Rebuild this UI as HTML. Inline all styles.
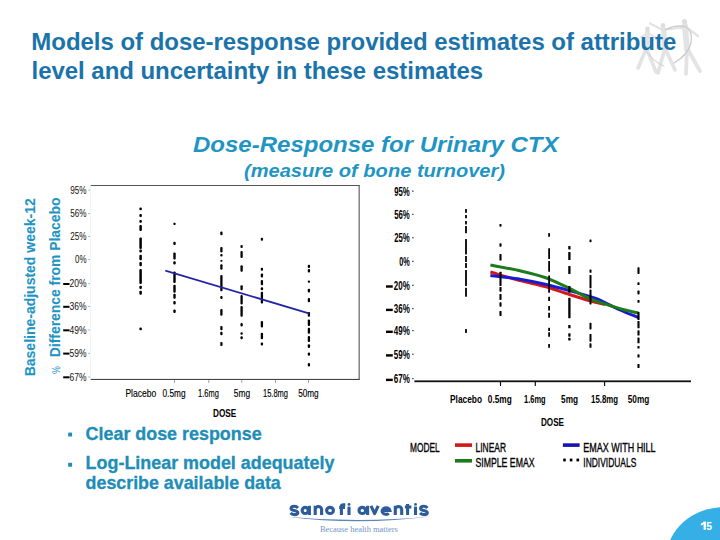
<!DOCTYPE html>
<html><head><meta charset="utf-8">
<style>
html,body{margin:0;padding:0;background:#fff;width:720px;height:540px;overflow:hidden}
svg{display:block}
text{font-family:"Liberation Sans",sans-serif}
.t{font-size:24px;font-weight:bold;fill:#1a73aa}
.s1{font-size:22.3px;font-weight:bold;font-style:italic;fill:#1f95c4}
.s2{font-size:18.7px;font-weight:bold;font-style:italic;fill:#1f95c4}
.ax{font-size:14.4px;font-weight:bold;fill:#1f95c4;stroke:#1f95c4;stroke-width:0.1}
.bl{font-size:18.2px;font-weight:bold;fill:#208db6;stroke:#208db6;stroke-width:0.3}
.lt{font-size:10.3px;fill:#111}
.lx{font-size:10.2px;fill:#000;stroke:#000;stroke-width:0.15}
.rt{font-size:12.5px;fill:#000;font-weight:bold}
.rx{font-size:11.8px;fill:#000;font-weight:bold}
.dose{font-size:10.4px;font-weight:bold;fill:#000}
.leg{font-size:13.2px;fill:#000;stroke:#000;stroke-width:0.35}
</style></head><body>
<svg width="720" height="540" viewBox="0 0 720 540">
<defs><filter id="bl" x="-20%" y="-20%" width="140%" height="140%"><feGaussianBlur stdDeviation="0.75"/></filter></defs>
<g filter="url(#bl)">
<g fill="none" stroke="#e3e3e3" stroke-linecap="round" stroke-linejoin="round">
  <path d="M647.5 32 L 646.5 49" stroke-width="5"/>
  <path d="M646.5 48 L 638 68 M646.5 48 L 656 72" stroke-width="3.6"/>
  <path d="M663.5 29 L 665 49" stroke-width="5.2"/>
  <path d="M665 48 L 658 73 M665 48 L 675 70" stroke-width="3.6"/>
  <path d="M650 23.5 L 663 30 L 678 28" stroke-width="2.2"/>
  <path d="M685 26 L 687 49" stroke-width="6"/>
  <path d="M687 48 L 686 74 M687 48 L 700 71" stroke-width="3.8"/>
  <path d="M680 28 L 686 27 L 698 36" stroke-width="2.4"/>
  <path d="M641 37 L 648 33 L 655 37" stroke-width="2"/>
</g>
<g fill="#dedede"><circle cx="647.5" cy="28.8" r="2.3"/><circle cx="663" cy="25.4" r="2.3"/><circle cx="684.5" cy="21.6" r="2.7"/></g>
<g fill="none" stroke-linecap="round" stroke-linejoin="round">
  <path d="M666 29.5 Q 677 24, 686 27 Q 693 31, 691 43 Q 688 55, 674 63" stroke="#cdcdcd" stroke-width="1.4"/>
  <path d="M645 49 Q 652 61, 664 66" stroke="#d6d6d6" stroke-width="1.2"/>
</g>
</g>
<text x="31.3" y="49.7" class="t" textLength="645" lengthAdjust="spacing">Models of dose-response provided estimates of attribute</text>
<text x="31.6" y="78.7" class="t" textLength="451.5" lengthAdjust="spacing">level and uncertainty in these estimates</text>
<text x="193" y="152.2" class="s1" textLength="365.5" lengthAdjust="spacingAndGlyphs">Dose-Response for Urinary CTX</text>
<text x="244" y="177.2" class="s2" textLength="261" lengthAdjust="spacingAndGlyphs">(measure of bone turnover)</text>
<text transform="translate(35.2,376.3) rotate(-90)" class="ax" textLength="178" lengthAdjust="spacingAndGlyphs">Baseline-adjusted week-12</text>
<text transform="translate(60.2,357.2) rotate(-90)" class="ax" textLength="159.6" lengthAdjust="spacingAndGlyphs">Difference from Placebo</text>
<text transform="translate(60.2,373.9) rotate(-90)" style="font-size:11px;fill:#1f95c4" textLength="7.8" lengthAdjust="spacingAndGlyphs">%</text>
<rect x="90" y="185" width="269.5" height="1" fill="#555"/>
<rect x="358.6" y="185" width="1.1" height="195" fill="#555"/>
<rect x="90" y="378.9" width="269.5" height="1.1" fill="#444"/>
<rect x="90" y="185" width="0.8" height="195" fill="#f0f0f0"/>
<text x="86.6" y="193.7" text-anchor="end" class="lt" textLength="16.3" lengthAdjust="spacingAndGlyphs">95%</text><rect x="88.3" y="189.5" width="1.7" height="1" fill="#aaa"/><text x="86.6" y="217.2" text-anchor="end" class="lt" textLength="16.3" lengthAdjust="spacingAndGlyphs">56%</text><rect x="88.3" y="213.0" width="1.7" height="1" fill="#aaa"/><text x="86.6" y="240.2" text-anchor="end" class="lt" textLength="16.3" lengthAdjust="spacingAndGlyphs">25%</text><rect x="88.3" y="236.0" width="1.7" height="1" fill="#aaa"/><text x="86.6" y="263.3" text-anchor="end" class="lt" textLength="11.5" lengthAdjust="spacingAndGlyphs">0%</text><rect x="88.3" y="259.1" width="1.7" height="1" fill="#aaa"/><rect x="63.2" y="283.00" width="6.30" height="2" fill="#000"/><text x="86.6" y="287.4" text-anchor="end" class="lt" textLength="17" lengthAdjust="spacingAndGlyphs">20%</text><rect x="88.3" y="283.2" width="1.7" height="1" fill="#aaa"/><rect x="63.2" y="305.80" width="6.30" height="2" fill="#000"/><text x="86.6" y="310.2" text-anchor="end" class="lt" textLength="17" lengthAdjust="spacingAndGlyphs">36%</text><rect x="88.3" y="306.0" width="1.7" height="1" fill="#aaa"/><rect x="63.2" y="329.30" width="6.30" height="2" fill="#000"/><text x="86.6" y="333.7" text-anchor="end" class="lt" textLength="17" lengthAdjust="spacingAndGlyphs">49%</text><rect x="88.3" y="329.5" width="1.7" height="1" fill="#aaa"/><rect x="63.2" y="352.60" width="6.30" height="2" fill="#000"/><text x="86.6" y="357.0" text-anchor="end" class="lt" textLength="17" lengthAdjust="spacingAndGlyphs">59%</text><rect x="88.3" y="352.8" width="1.7" height="1" fill="#aaa"/><rect x="63.2" y="376.30" width="6.30" height="2" fill="#000"/><text x="86.6" y="380.7" text-anchor="end" class="lt" textLength="17" lengthAdjust="spacingAndGlyphs">67%</text><rect x="88.3" y="376.5" width="1.7" height="1" fill="#aaa"/>
<g fill="#999"><rect x="174.1" y="380" width="0.9" height="3"/><rect x="208.35" y="380" width="0.9" height="3"/><rect x="241.35" y="380" width="0.9" height="3"/><rect x="275.1" y="380" width="0.9" height="3"/><rect x="308.1" y="380" width="0.9" height="3"/></g>
<g fill="#000"><rect x="139.35" y="207.4" width="2.5" height="2.8" rx="1.0"/><rect x="139.35" y="213.9" width="2.5" height="3.2" rx="1.0"/><rect x="139.35" y="219.9" width="2.5" height="2.8" rx="1.0"/><rect x="139.35" y="225.0" width="2.5" height="6.0" rx="1.0"/><rect x="139.35" y="237.5" width="2.5" height="11.5" rx="1.0"/><rect x="139.35" y="249.6" width="2.5" height="2.8" rx="1.0"/><rect x="139.35" y="254.7" width="2.5" height="5.6" rx="1.0"/><rect x="139.35" y="262.1" width="2.5" height="4.2" rx="1.0"/><rect x="139.35" y="269.0" width="2.5" height="14.9" rx="1.0"/><rect x="139.35" y="285.7" width="2.5" height="3.3" rx="1.0"/><rect x="139.35" y="290.8" width="2.5" height="4.0" rx="1.0"/><rect x="139.35" y="327.5" width="2.5" height="2.8" rx="1.0"/><rect x="173.30" y="222.7" width="2.4" height="2.3" rx="1.0"/><rect x="173.30" y="241.7" width="2.4" height="3.2" rx="1.0"/><rect x="173.30" y="252.4" width="2.4" height="7.0" rx="1.0"/><rect x="173.30" y="261.2" width="2.4" height="3.2" rx="1.0"/><rect x="173.30" y="271.4" width="2.4" height="11.6" rx="1.0"/><rect x="173.30" y="284.8" width="2.4" height="8.0" rx="1.0"/><rect x="173.30" y="293.7" width="2.4" height="5.1" rx="1.0"/><rect x="173.30" y="301.1" width="2.4" height="3.3" rx="1.0"/><rect x="173.30" y="309.4" width="2.4" height="3.7" rx="1.0"/><rect x="220.25" y="231.6" width="2.3" height="3.6" rx="1.0"/><rect x="220.25" y="246.9" width="2.3" height="5.6" rx="1.0"/><rect x="220.25" y="254.0" width="2.3" height="2.6" rx="1.0"/><rect x="220.25" y="260.1" width="2.3" height="1.6" rx="1.0"/><rect x="220.25" y="264.2" width="2.3" height="5.6" rx="1.0"/><rect x="220.25" y="274.9" width="2.3" height="16.4" rx="1.0"/><rect x="220.25" y="295.9" width="2.3" height="3.0" rx="1.0"/><rect x="220.25" y="309.1" width="2.3" height="6.6" rx="1.0"/><rect x="220.25" y="326.1" width="2.3" height="4.1" rx="1.0"/><rect x="220.25" y="331.7" width="2.3" height="3.6" rx="1.0"/><rect x="220.25" y="341.9" width="2.3" height="4.1" rx="1.0"/><rect x="240.45" y="244.9" width="2.3" height="3.0" rx="1.0"/><rect x="240.45" y="251.0" width="2.3" height="7.1" rx="1.0"/><rect x="240.45" y="265.2" width="2.3" height="6.6" rx="1.0"/><rect x="240.45" y="285.2" width="2.3" height="5.1" rx="1.0"/><rect x="240.45" y="294.9" width="2.3" height="9.6" rx="1.0"/><rect x="240.45" y="306.0" width="2.3" height="10.8" rx="1.0"/><rect x="240.45" y="323.0" width="2.3" height="3.6" rx="1.0"/><rect x="240.45" y="332.2" width="2.3" height="2.6" rx="1.0"/><rect x="240.45" y="336.3" width="2.3" height="3.0" rx="1.0"/><rect x="260.75" y="237.7" width="2.3" height="3.1" rx="1.0"/><rect x="260.75" y="267.8" width="2.3" height="3.0" rx="1.0"/><rect x="260.75" y="273.4" width="2.3" height="4.0" rx="1.0"/><rect x="260.75" y="280.0" width="2.3" height="5.2" rx="1.0"/><rect x="260.75" y="287.2" width="2.3" height="3.1" rx="1.0"/><rect x="260.75" y="291.8" width="2.3" height="11.7" rx="1.0"/><rect x="260.75" y="321.0" width="2.3" height="6.6" rx="1.0"/><rect x="260.75" y="332.7" width="2.3" height="6.6" rx="1.0"/><rect x="260.75" y="342.4" width="2.3" height="3.1" rx="1.0"/><rect x="307.75" y="264.7" width="2.3" height="3.3" rx="1.0"/><rect x="307.75" y="268.9" width="2.3" height="3.7" rx="1.0"/><rect x="307.75" y="280.5" width="2.3" height="2.3" rx="1.0"/><rect x="307.75" y="288.8" width="2.3" height="3.7" rx="1.0"/><rect x="307.75" y="298.0" width="2.3" height="4.2" rx="1.0"/><rect x="307.75" y="312.0" width="2.3" height="4.7" rx="1.0"/><rect x="307.75" y="319.4" width="2.3" height="6.5" rx="1.0"/><rect x="307.75" y="327.8" width="2.3" height="6.0" rx="1.0"/><rect x="307.75" y="336.1" width="2.3" height="5.8" rx="1.0"/><rect x="307.75" y="344.2" width="2.3" height="3.7" rx="1.0"/><rect x="307.75" y="352.5" width="2.3" height="3.2" rx="1.0"/><rect x="307.75" y="363.1" width="2.3" height="3.3" rx="1.0"/></g>
<line x1="165.3" y1="270.7" x2="308.8" y2="313.3" stroke="#2424a4" stroke-width="1.8"/>
<text x="140.8" y="396.6" text-anchor="middle" class="lx" textLength="30.8" lengthAdjust="spacingAndGlyphs">Placebo</text><text x="174" y="396.6" text-anchor="middle" class="lx" textLength="23" lengthAdjust="spacingAndGlyphs">0.5mg</text><text x="208.4" y="396.6" text-anchor="middle" class="lx" textLength="20.8" lengthAdjust="spacingAndGlyphs">1.6mg</text><text x="241.9" y="396.6" text-anchor="middle" class="lx" textLength="16.3" lengthAdjust="spacingAndGlyphs">5mg</text><text x="275.5" y="396.6" text-anchor="middle" class="lx" textLength="25" lengthAdjust="spacingAndGlyphs">15.8mg</text><text x="308.4" y="396.6" text-anchor="middle" class="lx" textLength="20.5" lengthAdjust="spacingAndGlyphs">50mg</text>
<text x="224.6" y="417" text-anchor="middle" class="dose" textLength="23.3" lengthAdjust="spacingAndGlyphs">DOSE</text>
<text x="409.8" y="195.7" text-anchor="end" class="rt" textLength="15.6" lengthAdjust="spacingAndGlyphs">95%</text><rect x="412" y="190.6" width="1.7" height="1" fill="#333"/><text x="409.8" y="218.9" text-anchor="end" class="rt" textLength="15.6" lengthAdjust="spacingAndGlyphs">56%</text><rect x="412" y="213.8" width="1.7" height="1" fill="#333"/><text x="409.8" y="242.4" text-anchor="end" class="rt" textLength="15.6" lengthAdjust="spacingAndGlyphs">25%</text><rect x="412" y="237.3" width="1.7" height="1" fill="#333"/><text x="409.8" y="265.9" text-anchor="end" class="rt" textLength="10.5" lengthAdjust="spacingAndGlyphs">0%</text><rect x="412" y="260.8" width="1.7" height="1" fill="#333"/><rect x="386" y="285.30" width="6.75" height="2.4" fill="#000"/><text x="409.8" y="289.9" text-anchor="end" class="rt" textLength="16" lengthAdjust="spacingAndGlyphs">20%</text><rect x="412" y="284.8" width="1.7" height="1" fill="#333"/><rect x="386" y="308.70" width="6.75" height="2.4" fill="#000"/><text x="409.8" y="313.3" text-anchor="end" class="rt" textLength="16" lengthAdjust="spacingAndGlyphs">36%</text><rect x="412" y="308.2" width="1.7" height="1" fill="#333"/><rect x="386" y="330.60" width="6.75" height="2.4" fill="#000"/><text x="409.8" y="335.2" text-anchor="end" class="rt" textLength="16" lengthAdjust="spacingAndGlyphs">49%</text><rect x="412" y="330.1" width="1.7" height="1" fill="#333"/><rect x="386" y="354.20" width="6.75" height="2.4" fill="#000"/><text x="409.8" y="358.8" text-anchor="end" class="rt" textLength="16" lengthAdjust="spacingAndGlyphs">59%</text><rect x="412" y="353.7" width="1.7" height="1" fill="#333"/><rect x="386" y="378.70" width="6.75" height="2.4" fill="#000"/><text x="409.8" y="383.3" text-anchor="end" class="rt" textLength="16" lengthAdjust="spacingAndGlyphs">67%</text><rect x="412" y="378.2" width="1.7" height="1" fill="#333"/>
<rect x="414.4" y="380.4" width="276.6" height="1.8" fill="#111"/>
<g fill="#000"><rect x="499.95" y="381" width="1.1" height="5"/><rect x="534.75" y="381" width="1.1" height="5"/><rect x="604.0500000000001" y="381" width="1.1" height="5"/></g>
<g fill="none" stroke-width="3" stroke-linejoin="round" stroke-linecap="butt">
<path d="M490.4 272.0 C495.3 273.4 510.9 278.2 520.0 280.6 C529.1 283.0 536.8 284.2 545.0 286.5 C553.2 288.8 561.8 292.1 569.4 294.5 C577.0 296.9 584.6 299.3 590.5 301.0 C596.4 302.7 602.6 303.9 605.0 304.5" stroke="#d41818"/>
<path d="M490.4 275.4 C495.3 276.0 510.9 277.7 520.0 279.2 C529.1 280.7 536.8 282.3 545.0 284.2 C553.2 286.1 561.8 288.5 569.4 290.6 C577.0 292.7 585.4 295.2 590.5 296.8 C595.6 298.4 595.1 298.0 600.0 300.2 C604.9 302.4 613.6 307.1 620.0 310.0 C626.4 312.9 635.4 316.2 638.5 317.5" stroke="#1a1ad0"/>
<path d="M490.4 265.0 C495.3 266.0 510.9 268.7 520.0 270.8 C529.1 272.9 536.8 274.6 545.0 277.5 C553.2 280.4 561.8 284.8 569.4 288.3 C577.0 291.9 582.1 295.4 590.5 298.8 C598.9 302.2 612.0 306.2 620.0 308.6 C628.0 311.0 635.4 312.3 638.5 313.0" stroke="#1d7a1d"/>
</g>
<g fill="#000"><rect x="465.10" y="208.9" width="1.8" height="3.9" rx="0.3"/><rect x="465.10" y="215.0" width="1.8" height="3.3" rx="0.3"/><rect x="465.10" y="221.0" width="1.8" height="3.4" rx="0.3"/><rect x="465.10" y="226.0" width="1.8" height="7.3" rx="0.3"/><rect x="465.10" y="238.9" width="1.8" height="15.5" rx="0.3"/><rect x="465.10" y="256.0" width="1.8" height="6.0" rx="0.3"/><rect x="465.10" y="263.0" width="1.8" height="5.0" rx="0.3"/><rect x="465.10" y="270.0" width="1.8" height="16.0" rx="0.3"/><rect x="465.10" y="287.8" width="1.8" height="8.9" rx="0.3"/><rect x="465.10" y="329.0" width="1.8" height="3.9" rx="0.3"/><rect x="499.45" y="223.9" width="2.1" height="2.8" rx="0.6"/><rect x="499.45" y="243.3" width="2.1" height="3.4" rx="0.6"/><rect x="499.45" y="254.0" width="2.1" height="6.5" rx="0.6"/><rect x="499.45" y="271.7" width="2.1" height="14.3" rx="0.6"/><rect x="499.45" y="287.0" width="2.1" height="4.7" rx="0.6"/><rect x="499.45" y="294.0" width="2.1" height="5.9" rx="0.6"/><rect x="499.45" y="302.3" width="2.1" height="4.4" rx="0.6"/><rect x="499.45" y="311.0" width="2.1" height="4.9" rx="0.6"/><rect x="548.20" y="233.1" width="1.8" height="3.6" rx="0.3"/><rect x="548.20" y="248.3" width="1.8" height="10.6" rx="0.3"/><rect x="548.20" y="261.0" width="1.8" height="10.7" rx="0.3"/><rect x="548.20" y="275.5" width="1.8" height="17.3" rx="0.3"/><rect x="548.20" y="296.7" width="1.8" height="4.3" rx="0.3"/><rect x="548.20" y="306.0" width="1.8" height="4.5" rx="0.3"/><rect x="548.20" y="312.8" width="1.8" height="5.0" rx="0.3"/><rect x="548.20" y="327.8" width="1.8" height="3.2" rx="0.3"/><rect x="548.20" y="332.2" width="1.8" height="4.5" rx="0.3"/><rect x="548.20" y="343.9" width="1.8" height="3.9" rx="0.3"/><rect x="568.25" y="246.0" width="2.3" height="3.4" rx="0.6"/><rect x="568.25" y="252.0" width="2.3" height="8.0" rx="0.6"/><rect x="568.25" y="266.0" width="2.3" height="8.0" rx="0.6"/><rect x="568.25" y="286.0" width="2.3" height="6.8" rx="0.6"/><rect x="568.25" y="297.8" width="2.3" height="20.5" rx="0.6"/><rect x="568.25" y="325.0" width="2.3" height="3.3" rx="0.6"/><rect x="568.25" y="333.3" width="2.3" height="3.4" rx="0.6"/><rect x="568.25" y="337.8" width="2.3" height="2.8" rx="0.6"/><rect x="589.50" y="239.4" width="2.0" height="2.8" rx="0.6"/><rect x="589.50" y="269.4" width="2.0" height="3.4" rx="0.6"/><rect x="589.50" y="275.0" width="2.0" height="13.3" rx="0.6"/><rect x="589.50" y="289.4" width="2.0" height="15.0" rx="0.6"/><rect x="589.50" y="322.8" width="2.0" height="6.6" rx="0.6"/><rect x="589.50" y="333.9" width="2.0" height="7.8" rx="0.6"/><rect x="589.50" y="343.3" width="2.0" height="4.5" rx="0.6"/><rect x="637.45" y="267.2" width="2.1" height="6.7" rx="0.6"/><rect x="637.45" y="282.2" width="2.1" height="2.8" rx="0.6"/><rect x="637.45" y="290.6" width="2.1" height="3.8" rx="0.6"/><rect x="637.45" y="300.0" width="2.1" height="2.8" rx="0.6"/><rect x="637.45" y="312.0" width="2.1" height="8.0" rx="0.6"/><rect x="637.45" y="321.0" width="2.1" height="7.3" rx="0.6"/><rect x="637.45" y="330.3" width="2.1" height="5.2" rx="0.6"/><rect x="637.45" y="337.4" width="2.1" height="5.9" rx="0.6"/><rect x="637.45" y="345.9" width="2.1" height="2.6" rx="0.6"/><rect x="637.45" y="354.3" width="2.1" height="3.2" rx="0.6"/><rect x="637.45" y="364.0" width="2.1" height="4.0" rx="0.6"/></g>
<text x="466" y="403.4" text-anchor="middle" class="rx" textLength="32" lengthAdjust="spacingAndGlyphs">Placebo</text><text x="499.8" y="403.4" text-anchor="middle" class="rx" textLength="24" lengthAdjust="spacingAndGlyphs">0.5mg</text><text x="534.8" y="403.4" text-anchor="middle" class="rx" textLength="21.6" lengthAdjust="spacingAndGlyphs">1.6mg</text><text x="569.6" y="403.4" text-anchor="middle" class="rx" textLength="17" lengthAdjust="spacingAndGlyphs">5mg</text><text x="604.6" y="403.4" text-anchor="middle" class="rx" textLength="27" lengthAdjust="spacingAndGlyphs">15.8mg</text><text x="638.5" y="403.4" text-anchor="middle" class="rx" textLength="21.5" lengthAdjust="spacingAndGlyphs">50mg</text>
<text x="552.5" y="426" text-anchor="middle" class="dose" textLength="23" lengthAdjust="spacingAndGlyphs">DOSE</text>
<text x="410" y="451.7" class="leg" textLength="29.6" lengthAdjust="spacingAndGlyphs">MODEL</text>
<rect x="455" y="443.3" width="17" height="3.6" fill="#d41818"/>
<text x="475.5" y="451.7" class="leg" textLength="30.5" lengthAdjust="spacingAndGlyphs">LINEAR</text>
<rect x="455" y="459" width="17" height="3.6" fill="#1d7a1d"/>
<text x="475.5" y="467.2" class="leg" textLength="59" lengthAdjust="spacingAndGlyphs">SIMPLE EMAX</text>
<rect x="562.9" y="443.3" width="16.7" height="3.6" fill="#1414b4"/>
<text x="583.3" y="451.7" class="leg" textLength="72.3" lengthAdjust="spacingAndGlyphs">EMAX WITH HILL</text>
<rect x="563.2" y="458.6" width="2.6" height="2.8" fill="#000"/><rect x="569.8" y="458.6" width="2.6" height="2.8" fill="#000"/><rect x="576.5" y="458.6" width="2.6" height="2.8" fill="#000"/>
<text x="583.3" y="467.2" class="leg" textLength="53" lengthAdjust="spacingAndGlyphs">INDIVIDUALS</text>
<rect x="68.2" y="432.6" width="3.9" height="3.9" fill="#208db6"/>
<rect x="68.2" y="462.8" width="3.9" height="3.9" fill="#208db6"/>
<text x="85.6" y="439.8" class="bl" textLength="176" lengthAdjust="spacingAndGlyphs">Clear dose response</text>
<text x="85.6" y="468.6" class="bl" textLength="248.8" lengthAdjust="spacingAndGlyphs">Log-Linear model adequately</text>
<text x="85.6" y="489" class="bl" textLength="195.2" lengthAdjust="spacingAndGlyphs">describe available data</text>
<g fill="none" stroke="#2e5c9b" stroke-width="3.1" stroke-linecap="butt">
<path d="M297.9 507.9 C297 506.8 295.6 506.3 294.3 506.3 C292.3 506.3 291.1 507.2 291.1 508.4 C291.1 511 297.8 509.9 297.8 512.7 C297.8 514 296.4 514.6 294.4 514.6 C292.7 514.6 291.4 514 290.5 513"/>
<ellipse cx="305.2" cy="510.4" rx="3.05" ry="3.05"/><path d="M309.4 505.8 V515"/>
<path d="M315.2 515 V505.8 M315.2 509.6 A3.2 3.1 0 0 1 321.6 509.6 V515"/>
<ellipse cx="330.05" cy="510.4" rx="3.4" ry="3.05"/>
<path d="M341.4 515 V506.5 Q341.4 504.8 343.5 504.8 H345.3 M339.2 507.4 H345"/>
<path d="M349 506.6 V515"/>
<ellipse cx="362.3" cy="510.4" rx="3.3" ry="3.05"/><path d="M367.6 505.8 V515"/>
<path d="M371 505.8 L374.6 513.6 L378.2 505.8" stroke-linejoin="round"/>
<path d="M382.2 510.5 H389.9 A3.9 3.25 0 1 0 388.8 513.4"/>
<path d="M395.3 515 V505.8 M395.3 509.6 A3.2 3.1 0 0 1 401.7 509.6 V515"/>
<path d="M407.6 503.9 V515 M404.9 507 H411.4"/>
<path d="M415.5 506.6 V515"/>
<path d="M427.4 507.9 C426.5 506.8 425.1 506.3 423.8 506.3 C421.8 506.3 420.6 507.2 420.6 508.4 C420.6 511 427.3 509.9 427.3 512.7 C427.3 514 425.9 514.6 423.9 514.6 C422.2 514.6 420.9 514 420 513"/>
</g>
<g fill="#2f5e9d"><circle cx="349" cy="504.4" r="1.45"/><circle cx="415.5" cy="504.4" r="1.45"/></g>
<path d="M287 516.7 Q 360 526, 432 516.2 Q 360 523.6, 287 516.7 Z" fill="#5f84bb"/>
<text x="319.9" y="531.8" style="font-family:'Liberation Serif',serif;font-size:8px;fill:#6f95c9" textLength="78" lengthAdjust="spacingAndGlyphs">Because health matters</text>
<ellipse cx="724.3" cy="558.7" rx="58.1" ry="51.6" fill="#36aee6"/>
<path d="M703.6 521.4 L705.9 521.4 L705.9 529.8 L703.6 529.8 L703.6 524.2 Q702.5 525.2 700.9 525.6 L700.9 523.6 Q702.9 522.8 703.6 521.4 Z" fill="#fff"/>
<text x="706.2" y="529.8" style="font-size:11.5px;font-weight:bold;fill:#fff" textLength="5.8" lengthAdjust="spacingAndGlyphs">5</text>
</svg>
</body></html>
